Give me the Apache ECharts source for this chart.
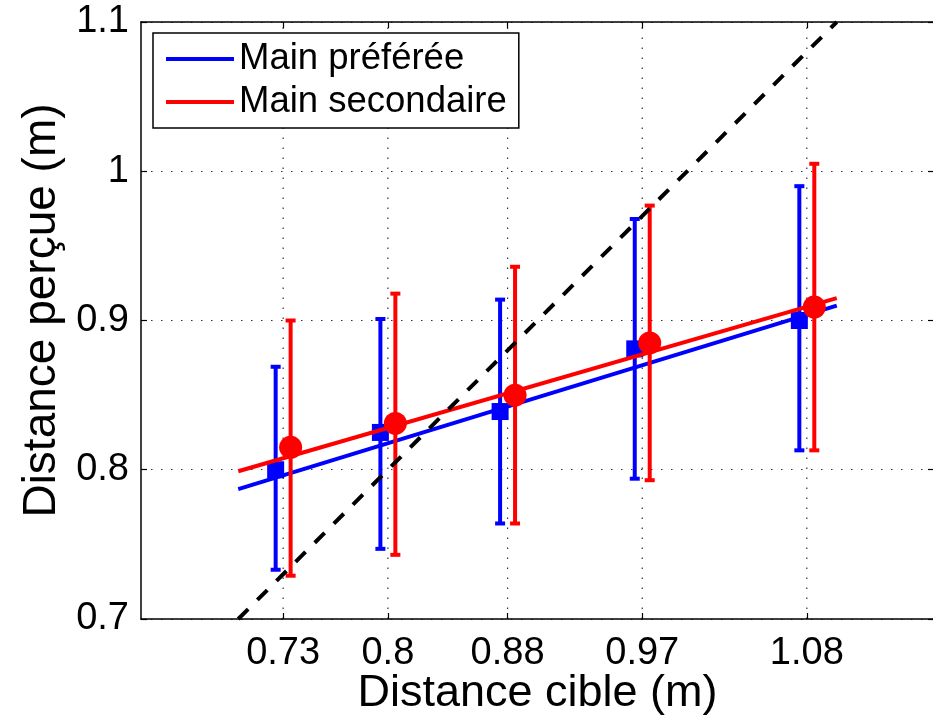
<!DOCTYPE html>
<html>
<head>
<meta charset="utf-8">
<script src="https://cdn.jsdelivr.net/npm/echarts@6/dist/echarts.min.js"></script>
<style>
  html, body { margin: 0; padding: 0; background: #fff; }
  #chart { width: 933px; height: 716px; }
</style>
</head>
<body>
<div id="chart"></div>
<script>
// Target distances shown on the x axis
const tickValues = [0.73, 0.8, 0.88, 0.97, 1.08];
const tickLabels = ['0.73', '0.8', '0.88', '0.97', '1.08'];

// Preferred hand: mean perceived distance with spread
const prefX    = [0.725, 0.795, 0.875, 0.965, 1.075];
const prefMean = [0.800, 0.825, 0.839, 0.881, 0.900];
const prefLow  = [0.733, 0.747, 0.764, 0.794, 0.813];
const prefHigh = [0.869, 0.901, 0.914, 0.968, 0.990];

// Secondary hand
const secX    = [0.735, 0.805, 0.885, 0.975, 1.085];
const secMean = [0.815, 0.831, 0.850, 0.885, 0.909];
const secLow  = [0.729, 0.743, 0.764, 0.793, 0.813];
const secHigh = [0.900, 0.918, 0.936, 0.977, 1.005];

// Linear fits
const fitX    = [0.70, 1.10];
const prefFit = [0.787, 0.910];
const secFit  = [0.799, 0.915];

// Identity line (perceived = target)
const identity = [0.7, 1.1];

const BLUE = '#0000ff';
const RED = '#ff0000';
const FONT = 'Liberation Sans, Arial, sans-serif';
const xMin = 0.635, xMax = 1.165, yMin = 0.7, yMax = 1.1;

function zip(a, b) { return a.map((v, i) => [v, b[i]]); }
function zip3(a, b, c) { return a.map((v, i) => [v, b[i], c[i]]); }

function errorBars(color) {
  return function (params, api) {
    const x = api.value(0);
    const lo = api.coord([x, api.value(1)]);
    const hi = api.coord([x, api.value(2)]);
    const half = 5;
    const st = { stroke: color, lineWidth: 4 };
    return {
      type: 'group',
      children: [
        { type: 'line', shape: { x1: lo[0], y1: lo[1], x2: hi[0], y2: hi[1] }, style: st },
        { type: 'line', shape: { x1: lo[0] - half, y1: lo[1], x2: lo[0] + half, y2: lo[1] }, style: st },
        { type: 'line', shape: { x1: hi[0] - half, y1: hi[1], x2: hi[0] + half, y2: hi[1] }, style: st }
      ]
    };
  };
}

function vGrid(params, api) {
  const v = api.value(0);
  const a = api.coord([v, yMin]);
  const b = api.coord([v, yMax]);
  return {
    type: 'line',
    shape: { x1: a[0], y1: a[1], x2: b[0], y2: b[1] },
    style: { stroke: '#333', lineWidth: 1.2, lineDash: [1.5, 8.5] }
  };
}

const chart = echarts.init(document.getElementById('chart'), null, { renderer: 'canvas' });

const tickCommon = { show: true, inside: true, length: 6, lineStyle: { color: '#000', width: 1.2 } };

chart.setOption({
  animation: false,
  backgroundColor: '#fff',
  grid: { left: 141, top: 22, width: 793, height: 597, outerBoundsMode: 'none', containLabel: false },
  legend: {
    left: 153, top: 33,
    orient: 'vertical',
    data: ['Main préférée', 'Main secondaire'],
    icon: 'rect',
    itemWidth: 68, itemHeight: 4,
    itemGap: 3,
    padding: [6, 12, 6, 13],
    borderColor: '#000', borderWidth: 1.5,
    backgroundColor: '#fff',
    textStyle: { fontFamily: FONT, fontSize: 36.5, color: '#000', lineHeight: 40 },
    selectedMode: false,
    z: 10
  },
  xAxis: [
    {
      type: 'value', position: 'bottom', min: xMin, max: xMax,
      axisLine: { show: true, onZero: false, lineStyle: { color: '#000', width: 1.5 } },
      axisTick: Object.assign({ customValues: tickValues }, tickCommon),
      axisLabel: {
        customValues: tickValues,
        formatter: v => tickLabels[tickValues.findIndex(t => Math.abs(t - v) < 1e-9)] || '',
        fontFamily: FONT, fontSize: 38, color: '#000', margin: 16
      },
      splitLine: { show: false },
      name: 'Distance cible (m)', nameLocation: 'middle', nameGap: 52,
      nameMoveOverlap: false,
      nameTextStyle: { fontFamily: FONT, fontSize: 45, color: '#000' }
    },
    {
      type: 'value', position: 'top', min: xMin, max: xMax,
      axisLine: { show: true, onZero: false, lineStyle: { color: '#000', width: 1.5 } },
      axisTick: Object.assign({ customValues: tickValues }, tickCommon),
      axisLabel: { show: false },
      splitLine: { show: false }
    }
  ],
  yAxis: [
    {
      type: 'value', position: 'left', min: yMin, max: yMax, interval: 0.1,
      axisLine: { show: true, onZero: false, lineStyle: { color: '#000', width: 1.5 } },
      axisTick: tickCommon,
      axisLabel: {
        formatter: v => String(parseFloat(v.toFixed(2))),
        fontFamily: FONT, fontSize: 38, color: '#000', margin: 12
      },
      splitLine: { show: true, lineStyle: { color: '#333', width: 1.2, type: [1.5, 8.5] } },
      name: 'Distance perçue (m)', nameLocation: 'middle', nameGap: 76,
      nameMoveOverlap: false,
      nameTextStyle: { fontFamily: FONT, fontSize: 46, color: '#000', padding: [0, 0, 0, 20] }
    },
    {
      type: 'value', position: 'right', min: yMin, max: yMax, interval: 0.1,
      axisLine: { show: true, onZero: false, lineStyle: { color: '#000', width: 1.5 } },
      axisTick: tickCommon,
      axisLabel: { show: false },
      splitLine: { show: false }
    }
  ],
  series: [
    {
      name: 'grid-x', type: 'custom', renderItem: vGrid, silent: true, z: 0,
      data: tickValues.map(v => [v]), encode: { x: 0 }
    },
    {
      name: 'pref-err', type: 'custom', renderItem: errorBars(BLUE), z: 2,
      data: zip3(prefX, prefLow, prefHigh), encode: { x: 0, y: [1, 2] }
    },
    {
      name: 'pref-mean', type: 'scatter', symbol: 'rect', symbolSize: 17, z: 3,
      itemStyle: { color: BLUE, opacity: 1 }, data: zip(prefX, prefMean)
    },
    {
      name: 'Main préférée', type: 'line', z: 4, symbol: 'none',
      lineStyle: { color: BLUE, width: 4 }, itemStyle: { color: BLUE },
      data: zip(fitX, prefFit)
    },
    {
      name: 'sec-err', type: 'custom', renderItem: errorBars(RED), z: 5,
      data: zip3(secX, secLow, secHigh), encode: { x: 0, y: [1, 2] }
    },
    {
      name: 'sec-mean', type: 'scatter', symbol: 'circle', symbolSize: 23, z: 6,
      itemStyle: { color: RED, opacity: 1 }, data: zip(secX, secMean)
    },
    {
      name: 'Main secondaire', type: 'line', z: 7, symbol: 'none',
      lineStyle: { color: RED, width: 4 }, itemStyle: { color: RED },
      data: zip(fitX, secFit)
    },
    {
      name: 'identity', type: 'line', z: 8, symbol: 'none',
      lineStyle: { color: '#000', width: 4, type: [14, 13] },
      data: zip(identity, identity)
    }
  ]
});
</script>
</body>
</html>
